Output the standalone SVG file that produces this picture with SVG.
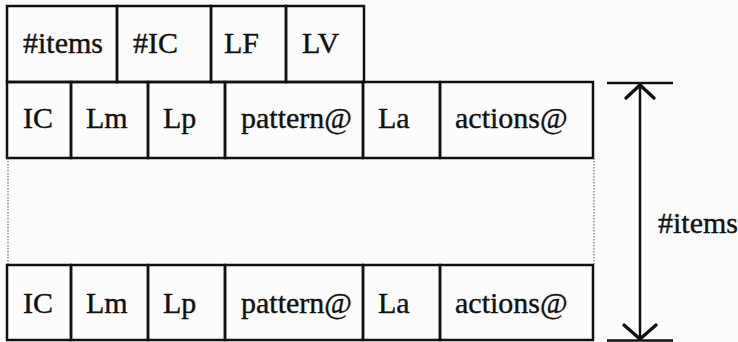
<svg xmlns="http://www.w3.org/2000/svg" width="738" height="342" viewBox="0 0 738 342">
<style>
.c{fill:none;stroke:#111;stroke-width:2.5}
.t{font-family:"Liberation Serif","Times New Roman",serif;font-size:30px;fill:#111;stroke:#111;stroke-width:0.4}
.d{fill:none;stroke:#555;stroke-width:1;stroke-dasharray:1.5 1.5}
.a{fill:none;stroke:#111;stroke-width:2.5}
.h{fill:none;stroke:#111;stroke-width:3.4;stroke-linecap:round;stroke-linejoin:round}
</style>
<rect width="738" height="342" fill="#fcfcfc"/>
<g id="header">
<g id="h-items"><rect class="c" x="7" y="6" width="110" height="76"/><text class="t" x="23" y="53">#items</text></g>
<g id="h-ic"><rect class="c" x="117" y="6" width="94" height="76"/><text class="t" x="133" y="53">#IC</text></g>
<g id="h-lf"><rect class="c" x="211" y="6" width="75" height="76"/><text class="t" x="224" y="53">LF</text></g>
<g id="h-lv"><rect class="c" x="286" y="6" width="78" height="76"/><text class="t" x="302" y="53">LV</text></g>
</g>
<g id="row1">
<g id="r1-ic"><rect class="c" x="7" y="82" width="64" height="76"/><text class="t" x="23" y="128">IC</text></g>
<g id="r1-lm"><rect class="c" x="71" y="82" width="77" height="76"/><text class="t" x="86" y="128">Lm</text></g>
<g id="r1-lp"><rect class="c" x="148" y="82" width="77" height="76"/><text class="t" x="163" y="128">Lp</text></g>
<g id="r1-pattern"><rect class="c" x="225" y="82" width="138" height="76"/><text class="t" x="241" y="128">pattern@</text></g>
<g id="r1-la"><rect class="c" x="363" y="82" width="77" height="76"/><text class="t" x="378" y="128">La</text></g>
<g id="r1-actions"><rect class="c" x="440" y="82" width="153" height="76"/><text class="t" x="455" y="128">actions@</text></g>
</g>
<g id="gap">
<line class="d" x1="8" y1="158" x2="8" y2="265"/>
<line class="d" x1="594" y1="158" x2="594" y2="265"/>
</g>
<g id="rowN">
<g id="rn-ic"><rect class="c" x="7" y="265" width="64" height="75"/><text class="t" x="23" y="313">IC</text></g>
<g id="rn-lm"><rect class="c" x="71" y="265" width="77" height="75"/><text class="t" x="86" y="313">Lm</text></g>
<g id="rn-lp"><rect class="c" x="148" y="265" width="77" height="75"/><text class="t" x="163" y="313">Lp</text></g>
<g id="rn-pattern"><rect class="c" x="225" y="265" width="138" height="75"/><text class="t" x="241" y="313">pattern@</text></g>
<g id="rn-la"><rect class="c" x="363" y="265" width="77" height="75"/><text class="t" x="378" y="313">La</text></g>
<g id="rn-actions"><rect class="c" x="440" y="265" width="153" height="75"/><text class="t" x="455" y="313">actions@</text></g>
</g>
<g id="connectors">
<line class="a" x1="607" y1="83" x2="673" y2="83"/>
<line class="a" x1="607" y1="340.5" x2="673" y2="340.5"/>
<line class="a" x1="640" y1="84" x2="640" y2="340"/>
<polyline class="h" points="626,98 640,85 654,98"/>
<polyline class="h" points="624,325 640,339 656,325"/>
</g>
<g id="dim-label"><text class="t" x="658" y="233">#items</text></g>
</svg>
